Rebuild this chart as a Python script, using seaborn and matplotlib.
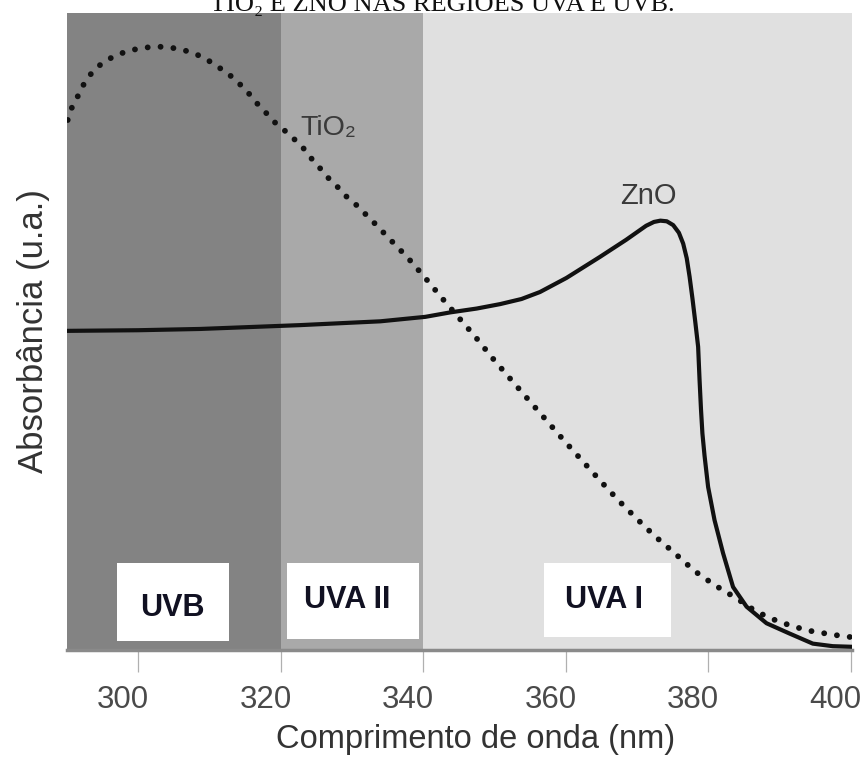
import matplotlib
matplotlib.use("Agg")
import matplotlib.pyplot as plt
from matplotlib.patches import Rectangle
from matplotlib.transforms import ScaledTranslation
import pandas as pd
import seaborn as sns

# Absorption spectra (arbitrary units) of TiO2 and ZnO
tio2_nm = [290.1, 290.7, 291.5, 292.3, 293.4, 294.6, 296.1, 297.7, 299.6, 301.3,
           303.1, 304.9, 306.6, 308.2, 309.9, 311.4, 312.9, 314.2, 315.5, 316.6,
           317.8, 319.1, 320.4, 321.8, 323.1, 324.2, 325.4, 326.5, 327.9, 329.0,
           330.4, 333.0, 335.4, 337.9, 340.3, 342.6, 344.9, 347.3, 349.6, 351.9,
           354.3, 359.6, 365.0, 367.4, 369.9, 372.5, 375.3, 378.1, 380.9, 384.0,
           386.8, 390.0, 393.8, 397.5, 400.2]
tio2_abs = [83.2, 85.2, 86.9, 88.7, 90.5, 91.8, 92.9, 93.7, 94.3, 94.6,
            94.7, 94.5, 94.1, 93.5, 92.5, 91.4, 90.2, 88.9, 87.4, 85.9,
            84.5, 82.9, 81.7, 80.3, 78.9, 77.3, 75.8, 74.3, 72.8, 71.4,
            70.1, 67.2, 64.4, 61.5, 58.4, 55.3, 52.3, 49.2, 46.0, 43.0,
            39.9, 33.1, 26.4, 23.5, 20.7, 17.9, 15.2, 12.4, 10.2, 8.1,
            6.0, 4.4, 3.1, 2.4, 2.0]

zno_nm = [290.0, 300.0, 308.7, 322.7, 334.0, 340.3, 343.8, 347.5, 350.8, 353.8,
          356.4, 360.1, 364.8, 368.5, 371.3, 372.4, 373.3, 374.2, 375.1, 375.9,
          376.5, 377.0, 377.4, 377.8, 378.2, 378.6, 378.8, 379.0, 379.2, 379.5,
          380.0, 380.9, 382.1, 383.5, 385.4, 388.2, 391.4, 394.7, 397.5, 400.3]
zno_abs = [50.1, 50.2, 50.4, 51.0, 51.6, 52.3, 53.0, 53.6, 54.3, 55.1,
           56.2, 58.4, 61.7, 64.4, 66.6, 67.2, 67.4, 67.3, 66.7, 65.5,
           63.8, 61.5, 58.6, 55.2, 51.5, 47.6, 42.4, 37.8, 34.0, 30.5,
           25.6, 20.4, 15.2, 9.9, 6.8, 4.2, 2.6, 1.0, 0.6, 0.5]

# UV bands
band_names = ["UVB", "UVA II", "UVA I"]
band_edges = [290, 320, 340, 400.2]
band_colors = ["#838383", "#a9a9a9", "#e0e0e0"]

x_ticks = [300, 320, 340, 360, 380, 400]

sns.set_theme(style="white")
plt.rcParams["font.family"] = ["Liberation Sans", "DejaVu Sans"]

tio2 = pd.DataFrame({"nm": tio2_nm, "abs": tio2_abs})
zno = pd.DataFrame({"nm": zno_nm, "abs": zno_abs})

fig = plt.figure(figsize=(8.65, 7.6), dpi=100)
ax = fig.add_axes([67 / 865, 1 - 650 / 760, 785 / 865, 637 / 760])

for i, name in enumerate(band_names):
    ax.axvspan(band_edges[i], band_edges[i + 1], color=band_colors[i], lw=0, zorder=0)

# white label boxes for each band
boxes = [((297.05, 1.4), 15.7, 12.25, (304.8, 6.6)),
         ((320.9, 1.7), 18.5, 11.95, (329.3, 7.9)),
         ((356.9, 2.0), 17.85, 11.65, (365.4, 7.9))]
for name, (xy, w, h, txy) in zip(band_names, boxes):
    ax.add_patch(Rectangle(xy, w, h, facecolor="white", edgecolor="none", zorder=3))
    ax.text(txy[0], txy[1], name, ha="center", va="center", fontsize=22,
            fontweight="bold", color="#111122", zorder=4)

sns.lineplot(data=tio2, x="nm", y="abs", ax=ax, color="#111111", lw=4.2,
             linestyle=(0, (0.01, 2.2)), dash_capstyle="round", zorder=5)
sns.lineplot(data=zno, x="nm", y="abs", ax=ax, color="#111111", lw=3.0, zorder=5)

ax.text(322.7, 82.0, "TiO\u2082", ha="left", va="center", fontsize=20.5, color="#3a3a3a",
        family=["Liberation Sans", "DejaVu Sans"])
ax.text(371.6, 71.2, "ZnO", ha="center", va="center", fontsize=21, color="#3a3a3a")

ax.set_xlim(290, 400.2)
ax.set_ylim(0, 100)
ax.set_yticks([])
ax.set_xticks(x_ticks)
ax.set_xticklabels([str(t) for t in x_ticks])
ax.tick_params(axis="x", bottom=True, length=16, width=0.9, color="#b0b0b0",
               pad=9, labelsize=22.5, labelcolor="#4a4a4a", direction="out")
shift = ScaledTranslation(-15 / 100, 0, fig.dpi_scale_trans)
for lab in ax.get_xticklabels():
    lab.set_transform(lab.get_transform() + shift)
for side in ["top", "right", "left"]:
    ax.spines[side].set_visible(False)
ax.spines["bottom"].set_color("#8a8a8a")
ax.spines["bottom"].set_linewidth(2.5)

ax.set_xlabel("Comprimento de onda (nm)", fontsize=23.5, color="#333333")
ax.xaxis.set_label_coords(0.521, -0.116)
ax.set_ylabel("Absorbância (u.a.)", fontsize=25, color="#333333", labelpad=12)

fig.text(442 / 865, 1 - 11 / 760, "TIO\u2082 E ZNO NAS REGIÕES UVA E UVB.",
         ha="center", va="baseline", fontsize=19, color="#111111",
         family=["Liberation Serif", "DejaVu Serif"])

fig.savefig("out.png", dpi=100, facecolor="white")
